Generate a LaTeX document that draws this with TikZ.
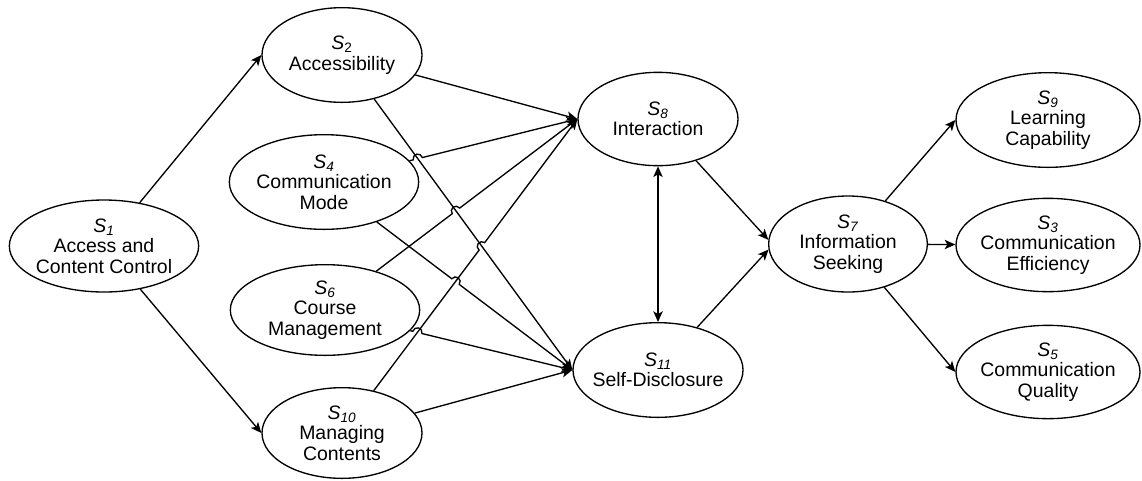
\documentclass[tikz,border=0pt]{standalone}
\usepackage{fontspec}
\setmainfont{Liberation Sans}
\usetikzlibrary{shapes.geometric,arrows.meta,calc,intersections}

\tikzset{
  state/.style={ellipse, draw, line width=1pt, inner xsep=-4pt, inner ysep=0pt,
    minimum width=120pt, minimum height=71pt, align=center,
    font=\fontsize{14.6pt}{15.4pt}\selectfont},
  wide/.style={minimum width=142pt},
  arr/.style={line width=1pt, -{Stealth[length=8pt,width=7pt,inset=2pt]}},
  darr/.style={line width=1pt, {Stealth[length=8pt,width=7pt,inset=2pt]}-{Stealth[length=8pt,width=7pt,inset=2pt]}}
}
\newcommand{\sname}[1]{\textit{S}\textsubscript{\textit{#1}}}

\begin{document}
\begin{tikzpicture}[x=0.75pt,y=-0.75pt]
        \useasboundingbox (0,0) rectangle (1142,480);

        % left side
        \node[state,wide,minimum height=69pt] (s1) at (104,246) {\sname{1}\\Access and\\Content Control};
        \node[state] (s2) at (342,55) {\textit{S}\textsubscript{2}\\Accessibility};
        \node[state,wide] (s4) at (324,182) {\sname{4}\\Communication\\Mode};
        \node[state,wide,minimum height=68pt] (s6) at (325,310) {\sname{6}\\Course\\Management};
        \node[state,minimum height=68pt] (s10) at (342,433) {\sname{10}\\Managing\\Contents};

        % middle
        \node[state,minimum height=70pt] (s8) at (658,119) {\sname{8}\\Interaction};
        \node[state] (s11) at (658,370) {\sname{11}\\Self-Disclosure};
        \node[state,minimum width=119pt,minimum height=72pt] (s7) at (848,244) {\sname{7}\\Information\\Seeking};

        % right side
        \node[state,minimum width=138pt] (s9) at (1048,120) {\sname{9}\\Learning\\Capability};
        \node[state,minimum width=138pt,minimum height=70pt] (s3) at (1048,245) {\sname{3}\\Communication\\Efficiency};
        \node[state,minimum width=138pt,minimum height=70pt] (s5) at (1048,372) {\sname{5}\\Communication\\Quality};

        \draw[arr] (s1) -- (s2.west);
        \draw[arr] (s1) -- (s10.west);

        % straight connectors
        \path[name path=l2b] (s2) -- (s11.west);
        \draw[arr] (s2) -- (s11.west);
        \draw[arr] (s2) -- (s8.west);
        \draw[arr] (s10) -- (s11.west);

        % S10 -> S8 hops over S2 -> S11
        \path[name path=l10a] (s10) -- (s8.west);
        \path[name intersections={of=l10a and l2b, by=h1}];
        \draw[arr] let \p1=($(s8.west)-(s10)$), \n1={atan2(\y1,\x1)} in
          (s10) -- ($(h1)!3.5pt!(s10)$) arc[start angle=\n1+180, delta angle=-180, radius=3.5pt] -- (s8.west);

        % S4 -> S8 hops over S2 -> S11
        \path[name path=l4a] (s4) -- (s8.west);
        \path[name intersections={of=l4a and l2b, by=h2}];
        \draw[arr] let \p1=($(s8.west)-(s4)$), \n1={atan2(\y1,\x1)} in
          (s4) -- ($(h2)!3.5pt!(s4)$) arc[start angle=\n1+180, delta angle=-180, radius=3.5pt] -- (s8.west);

        % S6 -> S8 hops over S2 -> S11
        \path[name path=l6a] (s6) -- (s8.west);
        \path[name intersections={of=l6a and l2b, by=h3}];
        \draw[arr] let \p1=($(s8.west)-(s6)$), \n1={atan2(\y1,\x1)} in
          (s6) -- ($(h3)!3.5pt!(s6)$) arc[start angle=\n1+180, delta angle=-180, radius=3.5pt] -- (s8.west);

        % S4 -> S11 hops over S10 -> S8
        \path[name path=l4b] (s4) -- (s11.west);
        \path[name intersections={of=l4b and l10a, by=h4}];
        \draw[arr] let \p1=($(s11.west)-(s4)$), \n1={atan2(\y1,\x1)} in
          (s4) -- ($(h4)!3.5pt!(s4)$) arc[start angle=\n1+180, delta angle=-180, radius=3.5pt] -- (s11.west);

        % S6 -> S11 hops over S10 -> S8
        \path[name path=l6b] (s6) -- (s11.west);
        \path[name intersections={of=l6b and l10a, by=h5}];
        \draw[arr] let \p1=($(s11.west)-(s6)$), \n1={atan2(\y1,\x1)} in
          (s6) -- ($(h5)!3.5pt!(s6)$) arc[start angle=\n1+180, delta angle=-180, radius=3.5pt] -- (s11.west);

        % middle and right
        \draw[darr] (s8) -- (s11);
        \draw[arr] (s8) -- (s7.177);
        \draw[arr] (s11) -- (s7.184);
        \draw[arr] (s7) -- (s9.west);
        \draw[arr] (s7) -- (s3);
        \draw[arr] (s7) -- (s5.west);
\end{tikzpicture}
\end{document}
